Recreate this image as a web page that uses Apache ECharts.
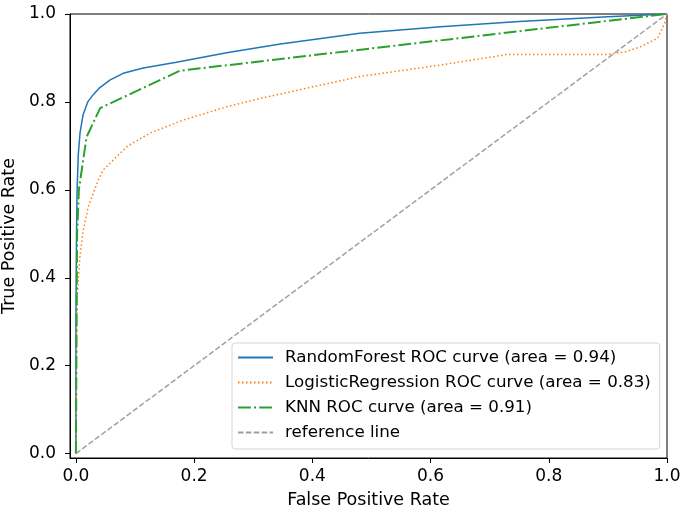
<!DOCTYPE html>
<html>
<head>
<meta charset="utf-8">
<script src="https://cdn.jsdelivr.net/npm/echarts@6/dist/echarts.min.js"></script>
<style>
  html, body { margin: 0; padding: 0; background: #fff; }
  #chart { width: 680px; height: 510px; }
</style>
</head>
<body>
<div id="chart"></div>
<script>
// ROC curves: [false positive rate, true positive rate]
const randomForestRoc = [
  [0, 0], [0, 0.3], [0.001, 0.5], [0.002, 0.6], [0.004, 0.68], [0.007, 0.73],
  [0.012, 0.77], [0.02, 0.8], [0.029, 0.816], [0.04, 0.832], [0.058, 0.85],
  [0.08, 0.865], [0.114, 0.877], [0.17, 0.89], [0.255, 0.912], [0.346, 0.932],
  [0.48, 0.956], [0.617, 0.971], [0.75, 0.983], [0.9, 0.994], [1, 1]
];
const logisticRoc = [
  [0, 0], [0.0005, 0.15], [0.001, 0.3], [0.002, 0.35], [0.004, 0.395],
  [0.0068, 0.448], [0.0124, 0.509], [0.021, 0.562], [0.038, 0.623],
  [0.046, 0.645], [0.086, 0.698], [0.125, 0.729], [0.182, 0.759],
  [0.255, 0.789], [0.312, 0.808], [0.346, 0.818], [0.481, 0.858],
  [0.617, 0.884], [0.7, 0.9015], [0.73, 0.908], [0.8, 0.908], [0.899, 0.908],
  [0.93, 0.914], [0.956, 0.926], [0.984, 0.945], [0.996, 0.979], [1, 1]
];
const knnRoc = [
  [0, 0], [0.002, 0.5], [0.005, 0.6], [0.018, 0.72], [0.041, 0.786],
  [0.176, 0.871], [1, 1]
];
const referenceLine = [[0, 0], [1, 1]];

const seriesNames = [
  'RandomForest ROC curve (area = 0.94)',
  'LogisticRegression ROC curve (area = 0.83)',
  'KNN ROC curve (area = 0.91)',
  'reference line'
];
const tickValues = [0, 0.2, 0.4, 0.6, 0.8, 1.0];

const FONT = 'DejaVu Sans';
const chart = echarts.init(document.getElementById('chart'), null, { renderer: 'canvas' });

function axis(name, nameGap, labelMargin) {
  return {
    type: 'value',
    min: -0.01,
    max: 1.0,
    name: name,
    nameLocation: 'middle',
    nameGap: nameGap,
    nameTextStyle: { fontFamily: FONT, fontSize: 17.5, color: '#000' },
    axisLine: { show: true, onZero: false, lineStyle: { color: '#000', width: 1 } },
    axisTick: { show: true, inside: false, length: 5, customValues: tickValues, lineStyle: { color: '#000', width: 1 } },
    axisLabel: {
      customValues: tickValues,
      margin: labelMargin,
      fontFamily: FONT, fontSize: 17, color: '#000',
      formatter: v => v.toFixed(1)
    },
    splitLine: { show: false }
  };
}

function line(name, data, color, type, width) {
  return {
    name: name,
    type: 'line',
    data: data,
    symbol: 'none',
    showSymbol: false,
    smooth: false,
    silent: true,
    lineStyle: { color: color, width: width, type: type },
    itemStyle: { color: color }
  };
}

chart.setOption({
  animation: false,
  grid: {
    left: 70, right: 13, top: 14, bottom: 52,
    outerBoundsMode: 'none',
    containLabel: false,
    show: true, borderColor: '#000', borderWidth: 1, backgroundColor: 'transparent'
  },
  xAxis: axis('False Positive Rate', 33, 10),
  yAxis: axis('True Positive Rate', 43, 14),
  legend: {
    orient: 'vertical',
    left: 232, top: 343,
    padding: [6, 9, 8, 5],
    itemGap: 8,
    itemWidth: 35, itemHeight: 14,
    backgroundColor: 'rgba(255,255,255,0.8)',
    borderColor: '#d6d6d6', borderWidth: 1, borderRadius: 3,
    itemStyle: { opacity: 0 },
    textStyle: { fontFamily: FONT, fontSize: 16.7, color: '#000', padding: [0, 0, 0, 7] },
    data: seriesNames
  },
  series: [
    line(seriesNames[0], randomForestRoc, '#1f77b4', 'solid', 1.5),
    line(seriesNames[1], logisticRoc, '#ff7f0e', [1.5, 2.5], 1.5),
    line(seriesNames[2], knnRoc, '#2ca02c', [12.8, 3.2, 2, 3.2], 2),
    line(seriesNames[3], referenceLine, '#a0a0a0', [5.5, 2.4], 1.5)
  ]
});
</script>
</body>
</html>
